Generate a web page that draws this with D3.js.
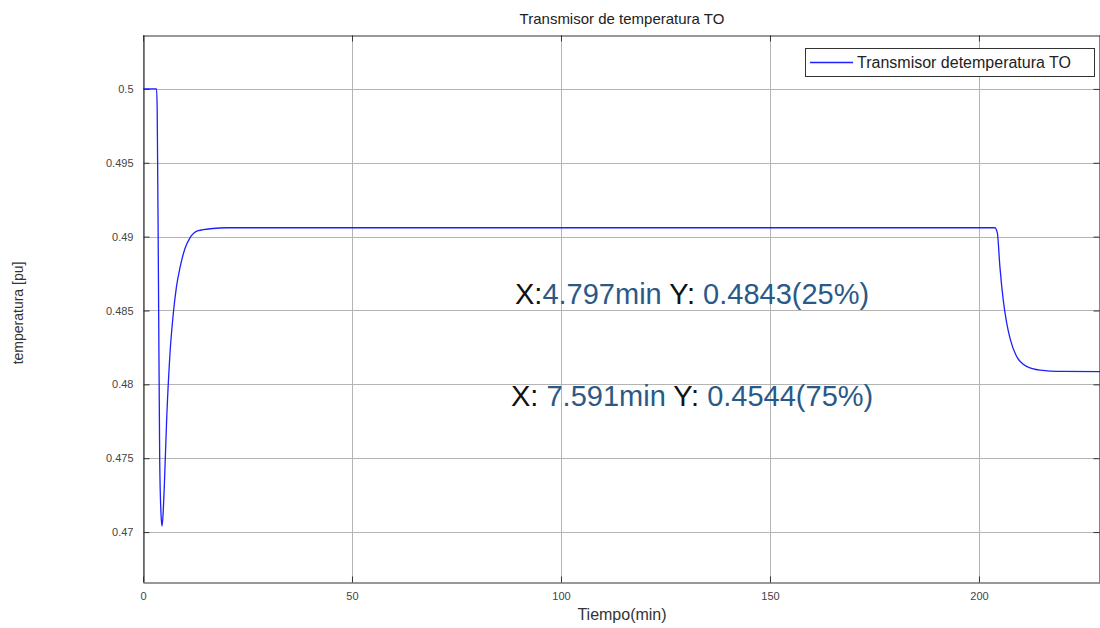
<!DOCTYPE html>
<html>
<head>
<meta charset="utf-8">
<title>Transmisor de temperatura TO</title>
<script src="https://cdn.jsdelivr.net/npm/d3@7/dist/d3.min.js"></script>
<style>
  body { margin: 0; background: #fff; }
  svg { font-family: "Liberation Sans", Arial, sans-serif; }
</style>
</head>
<body>
<div id="chart"></div>
<script>
// data
var timeMin = [0, 3.25, 3.4, 3.7, 4.0, 4.3, 4.55, 4.8, 5.1, 5.66, 6.46, 7.25, 8.0, 8.85, 10.05, 11.2, 13.2, 16.7, 20, 30,
               203.8, 204.4, 205.0, 205.8, 206.6, 207.5, 208.9, 211.4, 214.6, 220, 229.2];
var tempPu = [0.5, 0.5, 0.4985, 0.487, 0.4748, 0.4713, 0.4704, 0.4712, 0.4731, 0.4776, 0.4821, 0.4848, 0.4866, 0.4879, 0.4892, 0.4899, 0.4904, 0.49055, 0.4906, 0.4906,
              0.4906, 0.49025, 0.488, 0.48574, 0.48421, 0.48304, 0.48195, 0.48122, 0.48097, 0.48088, 0.48086];
var xTicks = [0, 50, 100, 150, 200];
var yTicks = [0.47, 0.475, 0.48, 0.485, 0.49, 0.495, 0.5];
var yTickLabels = ["0.47", "0.475", "0.48", "0.485", "0.49", "0.495", "0.5"];
var notes = [
  [["X:", "#111"], ["4.797min", "#2b5987"], [" Y: ", "#111"], ["0.4843(25%)", "#2b5987"]],
  [["X: ", "#111"], ["7.591min", "#2b5987"], [" Y: ", "#111"], ["0.4544(75%)", "#2b5987"]]
];

var width = 1100, height = 628;
var plotL = 143, plotR = 1101, plotT = 35, plotB = 582;

var svg = d3.select("#chart").append("svg")
  .attr("width", width)
  .attr("height", height);

var x = d3.scaleLinear().domain([0, 229.2]).range([plotL, plotR]);
var y = d3.scaleLinear().domain([0.46662, 0.50365]).range([plotB, plotT]);

// grid
svg.append("g").selectAll("line").data(xTicks).enter().append("line")
  .attr("x1", function(d) { return Math.round(x(d)) + 0.5; }).attr("x2", function(d) { return Math.round(x(d)) + 0.5; })
  .attr("y1", plotT).attr("y2", plotB)
  .style("stroke", "#b4b4b4").style("stroke-width", 1);
svg.append("g").selectAll("line").data(yTicks).enter().append("line")
  .attr("y1", function(d) { return Math.round(y(d)) + 0.5; }).attr("y2", function(d) { return Math.round(y(d)) + 0.5; })
  .attr("x1", plotL).attr("x2", plotR)
  .style("stroke", "#b4b4b4").style("stroke-width", 1);

// axes (ticks inward, box on)
var fmt = function(d) { return yTickLabels[yTicks.indexOf(d)]; };
var yAxis = svg.append("g").attr("transform", "translate(" + (plotL + 0.5) + ",0)")
  .call(d3.axisLeft(y).tickValues(yTicks).tickFormat(fmt).tickSizeInner(-6).tickSizeOuter(0).tickPadding(10));
var yAxisR = svg.append("g").attr("transform", "translate(" + (plotR - 1.5) + ",0)")
  .call(d3.axisRight(y).tickValues(yTicks).tickFormat("").tickSizeInner(-6).tickSizeOuter(0));
var xAxis = svg.append("g").attr("transform", "translate(0," + (plotB + 0.5) + ")")
  .call(d3.axisBottom(x).tickValues(xTicks).tickFormat(d3.format("d")).tickSizeInner(-6).tickSizeOuter(0).tickPadding(10));
var xAxisT = svg.append("g").attr("transform", "translate(0," + (plotT + 0.5) + ")")
  .call(d3.axisTop(x).tickValues(xTicks).tickFormat("").tickSizeInner(-6).tickSizeOuter(0));

[yAxis, yAxisR, xAxis, xAxisT].forEach(function(a) {
  a.select(".domain").style("stroke", "#333").style("stroke-width", 1.2);
  a.selectAll(".tick line").style("stroke", "#333");
  a.selectAll("text").style("font-size", "11px").style("fill", "#444")
    .style("font-family", "'Liberation Sans', Arial, sans-serif");
});

// line
var line = d3.line()
  .x(function(d, i) { return x(timeMin[i]); })
  .y(function(d) { return y(d); })
  .curve(d3.curveMonotoneX);

svg.append("path")
  .datum(tempPu)
  .attr("d", line)
  .style("fill", "none")
  .style("stroke", "#1f1fff")
  .style("stroke-width", 1.3);

// title + labels
svg.append("text").attr("x", 622).attr("y", 24).attr("text-anchor", "middle")
  .style("font-size", "15px").style("fill", "#222").text("Transmisor de temperatura TO");
svg.append("text").attr("x", 622).attr("y", 620).attr("text-anchor", "middle")
  .style("font-size", "16px").style("fill", "#333").text("Tiempo(min)");
svg.append("text").attr("transform", "translate(23,313) rotate(-90)").attr("text-anchor", "middle")
  .style("font-size", "14px").style("fill", "#333").text("temperatura [pu]");

// legend
var lg = svg.append("g");
lg.append("rect").attr("x", 805.5).attr("y", 48.5).attr("width", 289).attr("height", 28)
  .style("fill", "#fff").style("stroke", "#333").style("stroke-width", 1);
lg.append("line").attr("x1", 810).attr("x2", 853).attr("y1", 62.5).attr("y2", 62.5)
  .style("stroke", "#1f1fff").style("stroke-width", 1.3);
lg.append("text").attr("x", 857).attr("y", 68).style("font-size", "16px").style("fill", "#222")
  .text("Transmisor detemperatura TO");

// annotation text
var noteX = [515, 511], noteY = [304, 406];
notes.forEach(function(parts, i) {
  var t = svg.append("text").attr("x", noteX[i]).attr("y", noteY[i])
    .style("font-size", "29px").attr("xml:space", "preserve");
  parts.forEach(function(p) {
    t.append("tspan").style("fill", p[1]).text(p[0]);
  });
});
</script>
</body>
</html>
